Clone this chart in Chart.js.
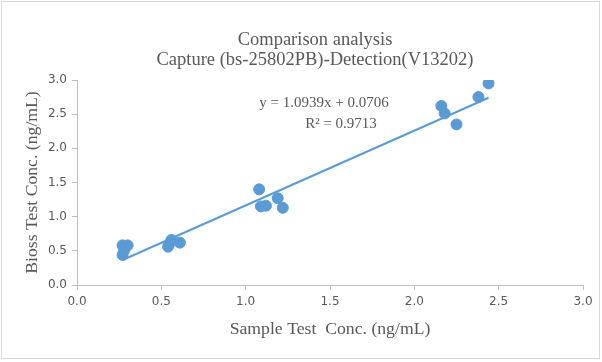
<!DOCTYPE html>
<html>
<head>
<meta charset="utf-8">
<title>Comparison analysis</title>
<script src="https://cdn.jsdelivr.net/npm/chart.js@4/dist/chart.umd.min.js"></script>
<style>
  html, body { margin: 0; padding: 0; background: #ffffff; }
  #wrap { width: 602px; height: 362px; position: relative; }
</style>
</head>
<body>
<div id="wrap"><canvas id="chartCompare"></canvas></div>
<script>
// Data
const sampleConc = [0.27, 0.30, 0.28, 0.27, 0.56, 0.54, 0.55, 0.61, 1.08, 1.09, 1.12, 1.19, 1.22, 2.16, 2.18, 2.25, 2.38, 2.44];
const biossConc  = [0.58, 0.58, 0.51, 0.44, 0.66, 0.56, 0.61, 0.62, 1.40, 1.15, 1.16, 1.27, 1.13, 2.62, 2.51, 2.35, 2.75, 2.95];
const xTicks = [0.0, 0.5, 1.0, 1.5, 2.0, 2.5, 3.0];
const yTicks = [0.0, 0.5, 1.0, 1.5, 2.0, 2.5, 3.0];
const slope = 1.0939;
const intercept = 0.0706;
const rSquared = 0.9713;
const titleLines = ["Comparison analysis", "Capture (bs-25802PB)-Detection(V13202)"];

document.addEventListener("DOMContentLoaded", function () {
    const textColor = "#595959";
    const axisColor = "#bfbfbf";
    const blue = "#5b9bd5";
    const serif = "'Liberation Serif', 'Times New Roman', serif";

    // Titik data
    const points = sampleConc.map(function (x, i) {
        return { x: x, y: biossConc[i] };
    });

    // Garis tren linear dari persamaan
    const xMin = Math.min.apply(null, sampleConc);
    const xMax = Math.max.apply(null, sampleConc);
    const trend = [
        { x: xMin, y: slope * xMin + intercept },
        { x: xMax, y: slope * xMax + intercept }
    ];

    // Judul, persamaan dan bingkai
    const decorPlugin = {
        id: "decor",
        afterDraw: function (chart) {
            const ctx = chart.ctx;
            ctx.save();
            ctx.strokeStyle = "#d9d9d9";
            ctx.lineWidth = 1;
            ctx.strokeRect(1.5, 1.5, 598, 357);

            ctx.fillStyle = textColor;
            ctx.textAlign = "center";
            ctx.textBaseline = "middle";
            ctx.font = "18.5px " + serif;
            ctx.fillText(titleLines[0], 315, 40);
            ctx.fillText(titleLines[1], 315, 60);

            ctx.font = "15px " + serif;
            ctx.fillText("y = " + slope.toFixed(4) + "x + " + intercept.toFixed(4), 324, 103);
            ctx.fillText("R\u00b2 = " + rSquared.toFixed(4), 341, 124);
            ctx.restore();
        }
    };

    const ctx = document.getElementById("chartCompare").getContext("2d");
    new Chart(ctx, {
        type: "scatter",
        data: {
            datasets: [{
                label: "Bioss",
                data: points,
                backgroundColor: blue,
                borderColor: blue,
                pointRadius: 5.5,
                pointHoverRadius: 5.5,
                order: 1
            }, {
                type: "line",
                label: "Linear",
                data: trend,
                borderColor: blue,
                borderWidth: 2,
                pointRadius: 0,
                fill: false,
                order: 2
            }]
        },
        options: {
            responsive: true,
            maintainAspectRatio: false,
            animation: false,
            layout: { padding: { top: 80, right: 19, bottom: 0, left: 0 } },
            plugins: {
                legend: { display: false },
                tooltip: { enabled: false }
            },
            scales: {
                x: {
                    type: "linear",
                    min: xTicks[0],
                    max: xTicks[xTicks.length - 1],
                    afterBuildTicks: function (scale) {
                        scale.ticks = xTicks.map(function (v) { return { value: v }; });
                    },
                    afterFit: function (scale) { scale.height = 77; },
                    grid: { drawOnChartArea: false, drawTicks: true, tickLength: 5, color: axisColor },
                    border: { display: true, color: axisColor },
                    ticks: {
                        color: textColor,
                        padding: 5,
                        font: { family: "'DejaVu Sans', sans-serif", size: 12 },
                        callback: function (v) { return Number(v).toFixed(1); }
                    },
                    title: {
                        display: true,
                        text: "Sample Test  Conc. (ng/mL)",
                        color: textColor,
                        font: { family: serif, size: 17.7 },
                        padding: { top: 0, bottom: 22 }
                    }
                },
                y: {
                    type: "linear",
                    min: yTicks[0],
                    max: yTicks[yTicks.length - 1],
                    afterBuildTicks: function (scale) {
                        scale.ticks = yTicks.map(function (v) { return { value: v }; });
                    },
                    afterFit: function (scale) { scale.width = 77; },
                    grid: { drawOnChartArea: false, drawTicks: true, tickLength: 5, color: axisColor },
                    border: { display: true, color: axisColor },
                    ticks: {
                        color: textColor,
                        padding: 5,
                        font: { family: "'DejaVu Sans', sans-serif", size: 12 },
                        callback: function (v) { return Number(v).toFixed(1); }
                    },
                    title: {
                        display: true,
                        text: "Bioss Test Conc. (ng/mL)",
                        color: textColor,
                        font: { family: serif, size: 17.7 },
                        padding: { top: 22, bottom: 0 }
                    }
                }
            }
        },
        plugins: [decorPlugin]
    });
});
</script>
</body>
</html>
